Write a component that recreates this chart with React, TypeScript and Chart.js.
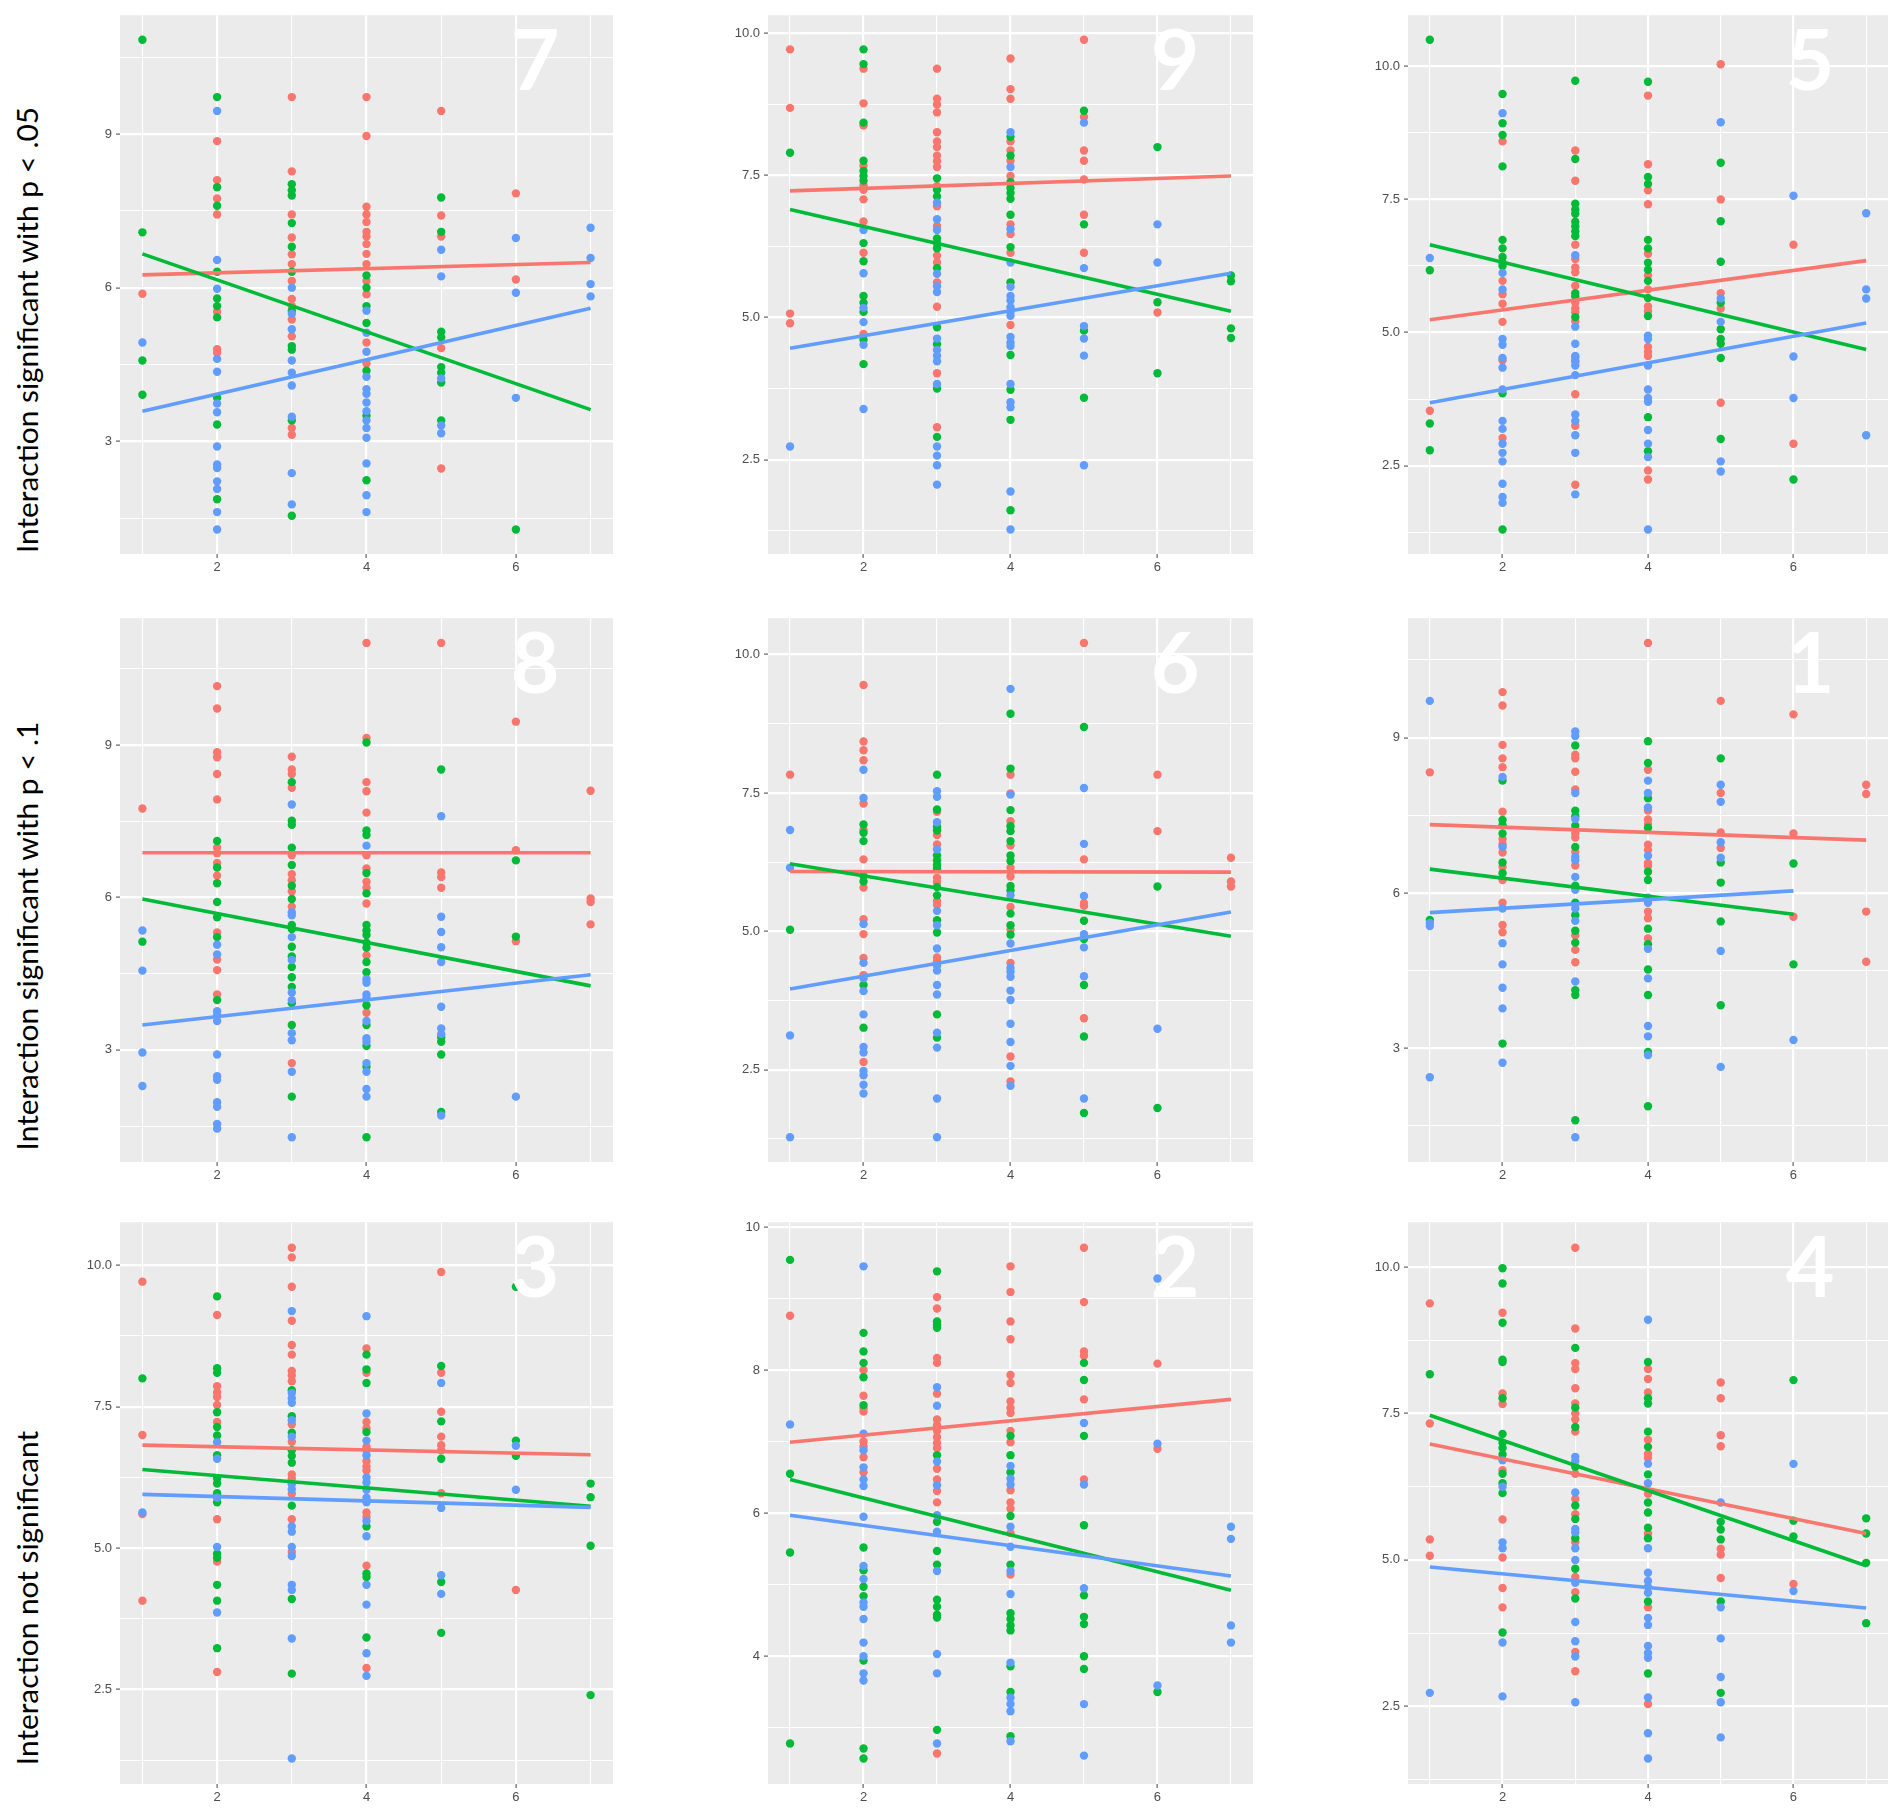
import React, { useEffect, useRef, useMemo } from 'react';
import { Chart, registerables } from 'chart.js';

Chart.register(...registerables);

const RED = '#F8766D';
const GREEN = '#00BA38';
const BLUE = '#619CFF';

// Each row: [x, y1, y2, ...]
const pan7Red = [
  [1, 5.88],
  [2, 8.86, 8.1, 7.74, 7.43, 5.53, 4.8, 4.73],
  [3, 9.72, 8.27, 7.43, 6.98, 6.65, 6.46, 6.13, 5.78, 5.64, 5.38, 5.05, 3.26, 3.13],
  [4, 9.72, 8.96, 7.58, 7.43, 7.28, 7.09, 7.0, 6.85, 6.66, 6.46, 6.13, 5.87, 4.93, 4.52],
  [5, 9.45, 7.41, 7.0, 4.82, 2.47],
  [6, 7.84, 6.16],
];
const pan7Green = [
  [1, 10.84, 7.08, 4.58, 3.91],
  [2, 9.72, 7.96, 7.6, 6.31, 5.79, 5.64, 5.42, 3.85, 3.33, 1.87],
  [3, 8.02, 7.9, 7.8, 7.26, 6.8, 6.31, 5.55, 4.86, 4.79, 3.41, 1.55],
  [4, 6.24, 6.0, 5.64, 5.31, 4.38, 3.5, 2.24],
  [5, 7.76, 7.09, 5.14, 5.03, 4.45, 4.34, 4.15, 3.41],
  [6, 1.28],
];
const pan7Blue = [
  [1, 4.93],
  [2, 9.45, 6.54, 5.98, 4.61, 4.36, 3.74, 3.57, 2.9, 2.55, 2.48, 2.22, 2.07, 1.62, 1.28],
  [3, 6.0, 5.49, 5.19, 4.58, 4.34, 4.09, 3.48, 2.38, 1.77],
  [4, 5.55, 5.12, 4.75, 4.26, 4.02, 3.93, 3.76, 3.59, 3.41, 3.26, 3.07, 2.57, 1.95, 1.62],
  [5, 6.74, 6.22, 4.23, 3.31, 3.16],
  [6, 6.97, 5.9, 3.85],
  [7, 7.17, 6.58, 6.07, 5.83],
];
const pan7Fits = [[1, 6.25, 7, 6.49], [1, 6.66, 7, 3.62], [1, 3.59, 7, 5.6]];

const pan9Red = [
  [1, 9.72, 8.69, 5.07, 4.9],
  [2, 9.38, 8.77, 8.38, 7.67, 7.33, 7.25, 7.08, 6.69, 6.14, 4.71],
  [3, 9.38, 8.85, 8.75, 8.61, 8.26, 8.1, 8.0, 7.85, 7.75, 7.65, 7.31, 6.96, 6.61, 6.09, 5.97, 5.62, 5.19, 4.02, 3.07],
  [4, 9.56, 9.02, 8.85, 8.1, 7.94, 7.76, 7.49, 6.64, 6.47, 6.14, 4.87],
  [5, 9.89, 8.53, 7.94, 7.76, 7.43, 6.81, 6.14],
  [6, 5.09],
];
const pan9Green = [
  [1, 7.9],
  [2, 9.72, 9.46, 8.43, 7.76, 7.58, 7.49, 7.41, 6.31, 5.99, 5.38, 5.26, 5.1, 4.61, 4.18],
  [3, 7.45, 7.25, 7.13, 6.39, 6.31, 6.22, 5.87, 4.83, 4.53, 3.75, 2.9],
  [4, 8.18, 7.85, 7.38, 7.28, 7.19, 7.09, 6.81, 6.24, 5.62, 4.34, 3.73, 3.2, 1.61],
  [5, 8.64, 6.64, 4.77, 3.59],
  [6, 8.0, 5.27, 4.02],
  [7, 5.74, 5.64, 4.81, 4.64],
];
const pan9Blue = [
  [1, 2.73],
  [2, 6.54, 5.78, 5.17, 4.92, 4.52, 3.39],
  [3, 7.02, 6.73, 6.54, 5.77, 5.55, 5.45, 4.63, 4.43, 4.33, 4.23, 3.83, 2.73, 2.57, 2.4, 2.06],
  [4, 8.26, 7.65, 6.56, 5.97, 5.54, 5.38, 5.3, 5.18, 5.1, 5.03, 4.66, 4.56, 4.5, 3.83, 3.51, 3.42, 1.94, 1.27],
  [5, 8.43, 5.87, 4.85, 4.63, 4.33, 2.4],
  [6, 6.64, 5.97],
];
const pan9Fits = [[1, 7.23, 7, 7.49], [1, 6.9, 7, 5.11], [1, 4.46, 7, 5.78]];

const pan5Red = [
  [1, 3.53],
  [2, 8.59, 5.97, 5.72, 5.54, 5.2, 4.48, 3.02],
  [3, 8.42, 7.85, 6.65, 6.38, 6.22, 6.13, 5.88, 5.56, 5.45, 5.38, 5.21, 4.53, 4.46, 3.84, 3.25, 2.14],
  [4, 9.45, 8.16, 7.67, 7.41, 6.48, 6.07, 5.81, 5.49, 5.4, 4.73, 4.64, 4.56, 2.41, 2.24],
  [5, 10.04, 7.5, 5.74, 5.45, 3.68],
  [6, 6.65, 2.91],
];
const pan5Green = [
  [1, 10.5, 6.17, 3.29, 2.79],
  [2, 9.48, 8.93, 8.71, 8.12, 6.74, 6.58, 6.42, 6.31, 6.25, 3.86, 1.3],
  [3, 9.73, 8.26, 7.42, 7.31, 7.23, 7.08, 6.99, 6.9, 6.81, 5.74, 5.68, 5.29],
  [4, 9.71, 7.92, 7.79, 6.74, 6.58, 6.31, 6.18, 5.97, 5.65, 5.31, 3.41, 2.77],
  [5, 8.19, 7.09, 6.33, 5.56, 5.06, 4.88, 4.79, 4.52, 3.0],
  [6, 2.24],
];
const pan5Blue = [
  [1, 6.4],
  [2, 9.12, 6.12, 5.81, 4.88, 4.77, 4.52, 4.34, 3.93, 3.34, 3.19, 2.91, 2.74, 2.58, 2.16, 1.91, 1.8],
  [3, 6.45, 5.11, 4.79, 4.56, 4.46, 4.38, 4.2, 3.46, 3.34, 3.07, 2.74, 1.96],
  [4, 4.94, 4.88, 4.38, 3.93, 3.77, 3.7, 3.17, 2.91, 2.66, 1.3],
  [5, 8.95, 5.64, 5.2, 2.58, 2.39],
  [6, 7.57, 4.55, 3.77],
  [7, 7.24, 5.81, 5.64, 3.07],
];
const pan5Fits = [[1, 5.24, 7, 6.35], [1, 6.65, 7, 4.68], [1, 3.68, 7, 5.18]];

const pan8Red = [
  [1, 7.75],
  [2, 10.16, 9.72, 8.86, 8.76, 8.43, 7.93, 6.98, 6.87, 6.68, 6.43, 5.31, 4.78, 4.57, 4.09],
  [3, 8.77, 8.52, 8.43, 8.16, 6.83, 6.46, 6.34, 6.12, 5.82, 2.74],
  [4, 11.01, 9.14, 8.27, 8.09, 7.67, 6.83, 6.57, 6.31, 6.19, 5.88, 4.86, 3.73],
  [5, 11.01, 6.49, 6.4, 6.19],
  [6, 9.46, 6.93, 5.14],
  [7, 8.1, 5.98, 5.91, 5.47],
];
const pan8Green = [
  [1, 5.13],
  [2, 7.11, 6.59, 6.28, 5.91, 5.61, 5.22, 3.98],
  [3, 8.27, 7.51, 7.43, 6.98, 6.64, 6.23, 5.97, 5.46, 5.38, 5.03, 4.84, 4.63, 4.43, 4.24, 3.92, 3.49, 2.08],
  [4, 9.05, 7.32, 7.23, 6.48, 6.08, 5.46, 5.35, 5.26, 5.11, 5.01, 4.73, 4.53, 3.88, 3.49, 3.08, 2.67, 1.28],
  [5, 8.52, 3.25, 3.16, 2.91, 1.78],
  [6, 6.73, 5.23],
];
const pan8Blue = [
  [1, 5.35, 4.56, 2.95, 2.29],
  [2, 5.07, 4.88, 3.76, 3.68, 3.57, 2.91, 2.48, 2.41, 1.97, 1.88, 1.54, 1.45],
  [3, 7.83, 5.71, 5.65, 5.22, 4.77, 4.13, 3.98, 3.33, 3.19, 2.57, 1.28],
  [4, 7.02, 4.39, 4.32, 4.09, 4.02, 3.57, 3.23, 3.16, 2.74, 2.57, 2.23, 2.08],
  [5, 7.6, 5.62, 5.32, 5.02, 4.73, 3.85, 3.42, 3.31, 1.71],
  [6, 2.08],
];
const pan8Fits = [[1, 6.88, 7, 6.88], [1, 5.97, 7, 4.26], [1, 3.49, 7, 4.48]];

const pan6Red = [
  [1, 7.83],
  [2, 9.45, 8.43, 8.27, 8.09, 7.31, 6.83, 6.3, 5.79, 5.22, 4.95, 4.52, 4.21, 2.64],
  [3, 7.16, 6.74, 6.57, 5.97, 5.89, 5.55, 5.48, 4.53, 4.46],
  [4, 7.83, 7.49, 6.99, 6.55, 6.15, 5.99, 5.44, 5.03, 4.43, 2.74, 2.29],
  [5, 10.21, 6.3, 5.51, 5.46, 3.43],
  [6, 7.83, 6.81],
  [7, 6.33, 5.9, 5.81],
];
const pan6Green = [
  [1, 5.03],
  [2, 6.93, 6.78, 6.63, 6.0, 5.9, 4.03, 3.26],
  [3, 7.83, 7.2, 6.89, 6.82, 6.37, 6.28, 6.2, 6.13, 5.8, 5.65, 5.2, 4.98, 3.5, 3.08],
  [4, 8.93, 7.94, 7.19, 6.9, 6.81, 6.63, 6.37, 6.27, 5.82, 5.74, 5.32, 5.11, 4.94],
  [5, 8.69, 5.19, 4.86, 4.03, 3.1, 1.72],
  [6, 5.81, 1.81],
];
const pan6Blue = [
  [1, 6.83, 6.15, 3.12, 1.28],
  [2, 7.92, 7.41, 5.13, 4.43, 4.15, 3.92, 3.5, 2.91, 2.81, 2.48, 2.4, 2.23, 2.07],
  [3, 7.53, 7.43, 6.97, 6.48, 5.37, 5.11, 4.69, 4.38, 4.29, 4.03, 3.86, 3.17, 2.9, 1.98, 1.28],
  [4, 9.38, 7.47, 5.65, 4.78, 4.34, 4.27, 4.18, 3.93, 3.76, 3.33, 3.0, 2.57, 2.21],
  [5, 7.59, 6.58, 5.64, 4.95, 4.71, 4.19, 1.98],
  [6, 3.24],
];
const pan6Fits = [[1, 6.08, 7, 6.07], [1, 6.22, 7, 4.91], [1, 3.96, 7, 5.35]];

const pan1Red = [
  [1, 8.33],
  [2, 9.88, 9.62, 8.86, 8.6, 8.43, 7.57, 7.04, 6.94, 6.78, 6.5, 6.25, 5.81, 5.38, 5.24],
  [3, 8.67, 8.6, 8.34, 8.0, 7.15, 7.07, 6.79, 6.53, 5.18, 4.9, 4.66],
  [4, 10.83, 8.38, 7.59, 7.42, 7.33, 6.93, 6.83, 6.58, 6.52, 5.64, 5.51, 5.12],
  [5, 9.71, 7.93, 7.17, 6.87],
  [6, 9.45, 7.15, 5.54],
  [7, 8.09, 7.91, 5.64, 4.67],
];
const pan1Green = [
  [1, 5.48],
  [2, 8.17, 7.41, 7.31, 7.15, 6.59, 6.38, 3.09],
  [3, 8.85, 7.59, 7.48, 7.3, 6.89, 6.14, 5.81, 5.57, 5.27, 5.04, 4.12, 4.03, 1.61],
  [4, 8.93, 8.51, 7.83, 7.26, 6.41, 6.25, 5.31, 5.01, 4.52, 4.03, 2.93, 1.88],
  [5, 8.6, 6.59, 6.2, 5.45, 3.83],
  [6, 6.57, 4.62],
];
const pan1Blue = [
  [1, 9.71, 5.42, 5.36, 2.44],
  [2, 8.24, 6.89, 5.7, 5.03, 4.62, 4.17, 3.77, 2.72],
  [3, 9.12, 9.03, 7.93, 7.43, 6.7, 6.63, 6.31, 6.06, 5.7, 5.46, 4.29, 1.28],
  [4, 8.17, 7.93, 7.65, 6.72, 5.91, 5.81, 4.92, 4.35, 3.43, 3.23, 2.87],
  [5, 8.09, 7.76, 6.98, 6.68, 4.88, 2.64],
  [6, 3.16],
];
const pan1Fits = [[1, 7.32, 7, 7.02], [1, 6.46, 6, 5.59], [1, 5.62, 6, 6.04]];

const pan3Red = [
  [1, 9.71, 7.0, 5.6, 4.07],
  [2, 9.12, 7.86, 7.75, 7.67, 7.53, 7.23, 5.51, 4.76, 2.81],
  [3, 10.31, 10.14, 9.62, 9.02, 8.59, 8.42, 8.13, 8.05, 7.95, 7.19, 6.88, 6.3, 6.23, 5.96, 5.51, 4.93],
  [4, 8.53, 8.1, 7.23, 7.12, 6.79, 6.73, 6.54, 6.44, 6.37, 5.63, 5.55, 4.69, 2.88],
  [5, 9.88, 8.1, 7.41, 6.97, 6.82, 6.73, 5.97],
  [6, 4.26],
];
const pan3Green = [
  [1, 8.0],
  [2, 9.45, 8.18, 8.1, 7.4, 7.14, 6.99, 6.64, 6.23, 6.14, 5.97, 5.81, 4.9, 4.83, 4.35, 4.07, 3.23],
  [3, 7.79, 7.33, 7.04, 6.73, 6.63, 6.51, 5.75, 4.1, 2.78],
  [4, 8.42, 8.16, 7.92, 7.05, 5.38, 4.55, 4.49, 3.42],
  [5, 8.22, 7.24, 6.58, 4.4, 3.5],
  [6, 9.62, 6.9, 6.63],
  [7, 6.14, 5.9, 5.04, 2.4],
];
const pan3Blue = [
  [1, 5.63],
  [2, 6.87, 6.58, 5.89, 5.02, 3.86],
  [3, 9.19, 7.74, 7.65, 7.57, 7.26, 6.97, 6.13, 6.04, 5.38, 5.29, 5.02, 4.86, 4.35, 4.26, 3.4, 1.28],
  [4, 9.1, 7.38, 6.9, 6.64, 6.25, 6.16, 6.03, 5.89, 5.81, 5.48, 5.21, 4.35, 4.0, 3.14, 2.74],
  [5, 7.92, 5.71, 4.52, 4.19],
  [6, 6.81, 6.03],
];
const pan3Fits = [[1, 6.82, 7, 6.65], [1, 6.39, 7, 5.74], [1, 5.95, 7, 5.72]];

const pan2Red = [
  [1, 8.76],
  [2, 8.0, 7.64, 7.47, 7.42, 7.0, 6.93, 6.78, 6.57],
  [3, 9.02, 8.86, 8.17, 8.1, 7.67, 7.31, 7.23, 7.15, 7.06, 6.98, 6.91, 6.62, 6.47, 6.31, 6.15, 2.64],
  [4, 9.45, 9.09, 8.68, 8.43, 7.93, 7.82, 7.56, 7.47, 7.4, 7.15, 6.99, 6.32, 6.15, 6.06, 5.72, 5.14],
  [5, 9.71, 8.95, 8.26, 8.2, 7.59, 6.47],
  [6, 8.09, 6.9],
];
const pan2Green = [
  [1, 9.54, 6.55, 5.45, 2.78],
  [2, 8.52, 8.26, 8.1, 7.9, 7.51, 5.52, 5.2, 4.97, 4.84, 3.94, 2.71, 2.57],
  [3, 9.38, 8.68, 8.63, 8.59, 6.81, 5.88, 5.47, 5.28, 4.79, 4.69, 4.58, 4.54, 2.97],
  [4, 7.08, 6.81, 6.57, 5.96, 5.28, 4.6, 4.52, 4.43, 4.36, 3.86, 3.5, 2.88],
  [5, 8.1, 7.86, 7.08, 5.83, 4.85, 4.55, 4.45, 4.0, 3.82],
  [6, 3.5],
];
const pan2Blue = [
  [1, 7.24],
  [2, 9.45, 7.11, 6.88, 6.64, 6.47, 6.38, 5.95, 5.26, 5.08, 4.75, 4.69, 4.52, 4.19, 4.0, 3.76, 3.66],
  [3, 7.76, 7.5, 6.72, 6.39, 5.97, 5.74, 5.19, 4.03, 3.76, 2.78],
  [4, 6.66, 6.48, 6.4, 5.81, 5.53, 5.19, 4.87, 3.91, 3.42, 3.33, 3.23, 2.81],
  [5, 7.26, 6.4, 4.95, 3.33, 2.61],
  [6, 9.28, 6.97, 3.59],
  [7, 5.81, 5.64, 4.43, 4.19],
];
const pan2Fits = [[1, 6.99, 7, 7.59], [1, 6.47, 7, 4.92], [1, 5.97, 7, 5.12]];

const pan4Red = [
  [1, 9.38, 7.33, 5.35, 5.07],
  [2, 9.22, 7.84, 7.66, 6.53, 5.69, 5.04, 4.52, 4.19],
  [3, 10.33, 8.95, 8.36, 8.26, 7.93, 7.67, 7.5, 7.4, 7.19, 6.47, 6.04, 5.78, 5.3, 4.71, 4.45, 3.43, 3.1],
  [4, 8.26, 8.09, 7.86, 7.05, 6.81, 6.74, 6.13, 5.45, 4.19, 2.54],
  [5, 8.03, 7.76, 7.13, 6.94, 5.19, 5.09, 4.69],
  [6, 4.59],
];
const pan4Green = [
  [1, 8.17],
  [2, 9.98, 9.72, 9.05, 8.42, 8.38, 7.76, 7.15, 7.0, 6.91, 6.8, 6.47, 6.31, 6.14, 3.76],
  [3, 8.62, 7.6, 7.27, 6.59, 5.93, 5.7, 5.37, 4.85, 4.34],
  [4, 8.38, 7.76, 7.67, 7.19, 6.93, 6.46, 5.98, 5.81, 5.55, 5.37, 4.29, 3.06],
  [5, 5.65, 5.52, 5.35, 4.29, 2.73],
  [6, 8.07, 5.67, 5.4],
  [7, 5.71, 5.45, 4.95, 3.92],
];
const pan4Blue = [
  [1, 2.73],
  [2, 6.7, 6.25, 5.3, 5.2, 3.59, 2.67],
  [3, 6.76, 6.69, 6.15, 5.53, 5.47, 5.2, 5.0, 4.61, 3.94, 3.61, 3.35, 2.57],
  [4, 9.1, 6.64, 6.31, 5.2, 4.78, 4.64, 4.54, 4.44, 4.01, 3.89, 3.53, 3.41, 3.33, 2.65, 2.04, 1.61],
  [5, 5.98, 4.19, 3.66, 3.0, 2.57, 1.97],
  [6, 6.64, 4.47],
];
const pan4Fits = [[1, 6.98, 7, 5.45], [1, 7.47, 7, 4.9], [1, 4.88, 7, 4.18]];

// Axis ticks
const X_MAJOR = [2, 4, 6];
const X_LABELS = ['2', '4', '6'];
const X_MINOR = [1, 3, 5, 7];
const Y_MAJOR_3 = [3, 6, 9];
const Y_LABELS_3 = ['3', '6', '9'];
const Y_MINOR_3 = [1.5, 4.5, 7.5, 10.5];
const Y_MAJOR_25 = [2.5, 5, 7.5, 10];
const Y_LABELS_25 = ['2.5', '5.0', '7.5', '10.0'];
const Y_MINOR_25 = [1.25, 3.75, 6.25, 8.75];
const Y_MAJOR_2 = [4, 6, 8, 10];
const Y_LABELS_2 = ['4', '6', '8', '10'];
const Y_MINOR_2 = [3, 5, 7, 9];

const ROW_LABELS = [
  'Interaction significant with p < .05',
  'Interaction significant with p < .1',
  'Interaction not significant',
];

type Panel = {
  label: string;
  red: number[][];
  green: number[][];
  blue: number[][];
  fits: number[][];
  yMajor: number[];
  yLabels: string[];
  yMinor: number[];
};

const PANELS: Panel[] = [
  { label: '7', red: pan7Red, green: pan7Green, blue: pan7Blue, fits: pan7Fits, yMajor: Y_MAJOR_3, yLabels: Y_LABELS_3, yMinor: Y_MINOR_3 },
  { label: '9', red: pan9Red, green: pan9Green, blue: pan9Blue, fits: pan9Fits, yMajor: Y_MAJOR_25, yLabels: Y_LABELS_25, yMinor: Y_MINOR_25 },
  { label: '5', red: pan5Red, green: pan5Green, blue: pan5Blue, fits: pan5Fits, yMajor: Y_MAJOR_25, yLabels: Y_LABELS_25, yMinor: Y_MINOR_25 },
  { label: '8', red: pan8Red, green: pan8Green, blue: pan8Blue, fits: pan8Fits, yMajor: Y_MAJOR_3, yLabels: Y_LABELS_3, yMinor: Y_MINOR_3 },
  { label: '6', red: pan6Red, green: pan6Green, blue: pan6Blue, fits: pan6Fits, yMajor: Y_MAJOR_25, yLabels: Y_LABELS_25, yMinor: Y_MINOR_25 },
  { label: '1', red: pan1Red, green: pan1Green, blue: pan1Blue, fits: pan1Fits, yMajor: Y_MAJOR_3, yLabels: Y_LABELS_3, yMinor: Y_MINOR_3 },
  { label: '3', red: pan3Red, green: pan3Green, blue: pan3Blue, fits: pan3Fits, yMajor: Y_MAJOR_25, yLabels: Y_LABELS_25, yMinor: Y_MINOR_25 },
  { label: '2', red: pan2Red, green: pan2Green, blue: pan2Blue, fits: pan2Fits, yMajor: Y_MAJOR_2, yLabels: Y_LABELS_2, yMinor: Y_MINOR_2 },
  { label: '4', red: pan4Red, green: pan4Green, blue: pan4Blue, fits: pan4Fits, yMajor: Y_MAJOR_25, yLabels: Y_LABELS_25, yMinor: Y_MINOR_25 },
];

// Layout (page pixels)
const COL_L = [120, 768, 1408];
const COL_R = [613, 1253, 1888];
const ROW_T = [15, 618, 1222];
const ROW_B = [554, 1162, 1784];
const ROW_LABEL_CY = [330, 936, 1598];
const ROW_LABEL_CX = 27;
const YW = 56;
const XH = 30;
const PT = 4;
const PR = 8;

const TICK_FONT = { family: "'Liberation Sans', Arial, sans-serif", size: 13 };
const TICK_COLOR = '#4D4D4D';

const bgPlugin = {
  id: 'panelBg',
  beforeDraw(chart: any) {
    const { ctx, chartArea: a } = chart;
    ctx.save();
    ctx.fillStyle = '#EBEBEB';
    ctx.fillRect(a.left, a.top, a.right - a.left, a.bottom - a.top);
    ctx.restore();
  },
};

function toPoints(groups: number[][]) {
  const pts: { x: number; y: number }[] = [];
  groups.forEach(([x, ...ys]) => ys.forEach((y) => pts.push({ x, y })));
  return pts;
}

function PanelChart({ panel, left, top, plotW, plotH }: { panel: Panel; left: number; top: number; plotW: number; plotH: number }) {
  const ref = useRef<HTMLCanvasElement>(null);
  const W = YW + plotW + PR;
  const H = PT + plotH + XH;
  useEffect(() => {
    if (!ref.current) return;
    const redPts = toPoints(panel.red);
    const greenPts = toPoints(panel.green);
    const bluePts = toPoints(panel.blue);
    const fitLines = panel.fits.map(([x0, y0, x1, y1]) => [{ x: x0, y: y0 }, { x: x1, y: y1 }]);
    const all = [...redPts, ...greenPts, ...bluePts, ...fitLines.flat()];
    const xs = all.map((p) => p.x);
    const ys = all.map((p) => p.y);
    const xMin0 = Math.min(...xs), xMax0 = Math.max(...xs);
    const yMin0 = Math.min(...ys), yMax0 = Math.max(...ys);
    const xPad = (xMax0 - xMin0) * 0.05;
    const yPad = (yMax0 - yMin0) * 0.05;
    const xMin = xMin0 - xPad, xMax = xMax0 + xPad;
    const yMin = yMin0 - yPad, yMax = yMax0 + yPad;

    const xTicks = [...X_MAJOR, ...X_MINOR].filter((v) => v >= xMin && v <= xMax).sort((a, b) => a - b);
    const yTicks = [...panel.yMajor, ...panel.yMinor].filter((v) => v >= yMin && v <= yMax).sort((a, b) => a - b);
    const isXMajor = (v: number) => X_MAJOR.includes(v);
    const isYMajor = (v: number) => panel.yMajor.includes(v);

    const colors = [RED, GREEN, BLUE];
    const chart = new Chart(ref.current, {
      type: 'scatter',
      data: {
        datasets: [
          ...fitLines.map((line, i) => ({
            type: 'line' as const,
            data: line,
            borderColor: colors[i],
            borderWidth: 3.6,
            pointRadius: 0,
            showLine: true,
            fill: false,
            order: 2 - i,
          })),
          { data: redPts, backgroundColor: RED, pointRadius: 4.2, borderWidth: 0, order: 5 },
          { data: greenPts, backgroundColor: GREEN, pointRadius: 4.2, borderWidth: 0, order: 4 },
          { data: bluePts, backgroundColor: BLUE, pointRadius: 4.2, borderWidth: 0, order: 3 },
        ] as any,
      },
      options: {
        responsive: false,
        animation: false,
        events: [],
        layout: { padding: { top: PT, right: PR, left: 0, bottom: 0 } },
        plugins: { legend: { display: false }, tooltip: { enabled: false } },
        scales: {
          x: {
            type: 'linear',
            position: 'bottom',
            min: xMin,
            max: xMax,
            afterBuildTicks: (axis: any) => {
              axis.ticks = xTicks.map((v) => ({ value: v }));
            },
            afterFit: (axis: any) => {
              axis.height = XH;
              axis.paddingLeft = 0;
              axis.paddingRight = 0;
            },
            ticks: {
              autoSkip: false,
              maxRotation: 0,
              padding: 2,
              color: TICK_COLOR,
              font: TICK_FONT,
              callback: (v: any) => {
                const i = X_MAJOR.indexOf(v);
                return i >= 0 ? X_LABELS[i] : '';
              },
            },
            grid: {
              color: '#FFFFFF',
              lineWidth: (c: any) => (c.tick && isXMajor(c.tick.value) ? 2.2 : 1.1),
              tickLength: 4,
              tickWidth: 1,
              tickColor: (c: any) => (c.tick && isXMajor(c.tick.value) ? '#444444' : 'rgba(0,0,0,0)'),
            },
            border: { display: false },
          },
          y: {
            type: 'linear',
            position: 'left',
            min: yMin,
            max: yMax,
            afterBuildTicks: (axis: any) => {
              axis.ticks = yTicks.map((v) => ({ value: v }));
            },
            afterFit: (axis: any) => {
              axis.width = YW;
              axis.paddingTop = 0;
              axis.paddingBottom = 0;
            },
            ticks: {
              autoSkip: false,
              padding: 4,
              color: TICK_COLOR,
              font: TICK_FONT,
              callback: (v: any) => {
                const i = panel.yMajor.indexOf(v);
                return i >= 0 ? panel.yLabels[i] : '';
              },
            },
            grid: {
              color: '#FFFFFF',
              lineWidth: (c: any) => (c.tick && isYMajor(c.tick.value) ? 2.2 : 1.1),
              tickLength: 4,
              tickWidth: 1,
              tickColor: (c: any) => (c.tick && isYMajor(c.tick.value) ? '#444444' : 'rgba(0,0,0,0)'),
            },
            border: { display: false },
          },
        },
      } as any,
      plugins: [bgPlugin],
    });
    return () => chart.destroy();
  }, [panel, plotW, plotH]);

  return (
    <canvas
      ref={ref}
      width={W}
      height={H}
      style={{ position: 'absolute', left, top, width: W, height: H }}
    />
  );
}

function RowLabel({ text, cx, cy, fontSize }: { text: string; cx: number; cy: number; fontSize: number }) {
  const L = 700;
  const lh = Math.round(fontSize * 1.2);
  return (
    <div
      style={{
        position: 'absolute',
        left: cx - L / 2,
        top: cy - lh / 2,
        width: L,
        height: lh,
        lineHeight: `${lh}px`,
        textAlign: 'center',
        whiteSpace: 'nowrap',
        fontFamily: "Lato, 'Open Sans', sans-serif",
        fontSize,
        color: '#000',
        transform: 'rotate(-90deg)',
        transformOrigin: '50% 50%',
      }}
    >
      {text}
    </div>
  );
}

export default function App() {
  const labelFont = useMemo(() => {
    try {
      const c = document.createElement('canvas').getContext('2d');
      if (!c) return 26;
      c.font = "100px Lato, 'Open Sans', sans-serif";
      const w = c.measureText(ROW_LABELS[0]).width;
      return Math.max(18, Math.min(34, (100 * 447) / w));
    } catch (e) {
      return 26;
    }
  }, []);

  return (
    <div style={{ position: 'absolute', left: 0, top: 0, width: 1901, height: 1820, background: '#FFFFFF', overflow: 'hidden' }}>
      {ROW_LABELS.map((t, r) => (
        <RowLabel key={t} text={t} cx={ROW_LABEL_CX} cy={ROW_LABEL_CY[r]} fontSize={labelFont} />
      ))}
      {PANELS.map((p, i) => {
        const r = Math.floor(i / 3);
        const c = i % 3;
        const plotW = COL_R[c] - COL_L[c];
        const plotH = ROW_B[r] - ROW_T[r];
        return (
          <React.Fragment key={p.label}>
            <PanelChart panel={p} left={COL_L[c] - YW} top={ROW_T[r] - PT} plotW={plotW} plotH={plotH} />
            <div
              style={{
                position: 'absolute',
                left: COL_R[c] - 78 - 50,
                top: ROW_T[r] + 1,
                width: 100,
                height: 84,
                lineHeight: '84px',
                textAlign: 'center',
                fontFamily: "Lato, 'Open Sans', sans-serif",
                fontWeight: 700,
                fontSize: 84,
                color: '#FFFFFF',
              }}
            >
              {p.label}
            </div>
          </React.Fragment>
        );
      })}
    </div>
  );
}
